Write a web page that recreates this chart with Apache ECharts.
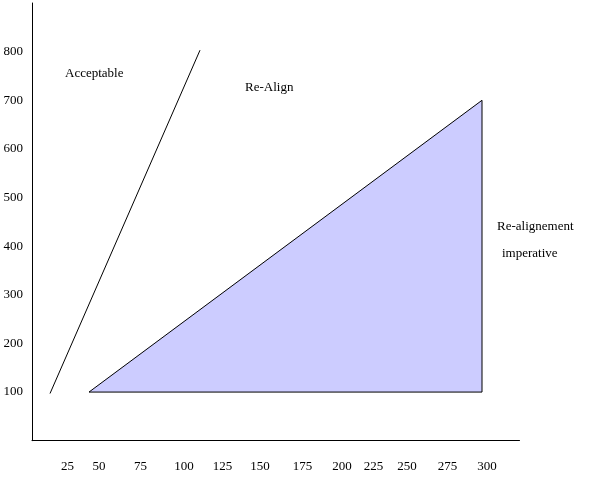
<!DOCTYPE html>
<html>
<head>
<meta charset="utf-8">
<style>
  html, body { margin: 0; padding: 0; background: #ffffff; }
  #chart { width: 600px; height: 478px; }
</style>
<script src="https://cdn.jsdelivr.net/npm/echarts@6/dist/echarts.min.js"></script>
</head>
<body>
<div id="chart"></div>
<script>
// ---- data ----
const xTickLabels = [25, 50, 75, 100, 125, 150, 175, 200, 225, 250, 275, 300];
const yTickLabels = [100, 200, 300, 400, 500, 600, 700, 800];
const acceptableLine = [[12, 97], [112, 803]];
const realignTriangle = [[38, 100], [300, 700], [300, 100]];
const annotations = ['Acceptable', 'Re-Align', 'Re-alignement', 'imperative'];

// ---- style (label nudges in px, as drawn in the original) ----
const xLabelShift = [-2, -8, -4, 2, 3, 3, 8, 10, 4, 0, 3, 5];
const FONT = '"Liberation Serif", "DejaVu Serif", serif';

const rich = {};
xTickLabels.forEach((v, i) => {
  const s = xLabelShift[i];
  rich['s' + i] = {
    fontFamily: FONT, fontSize: 13, color: '#000',
    padding: s >= 0 ? [0, 0, 0, 2 * s] : [0, -2 * s, 0, 0]
  };
});

const chart = echarts.init(document.getElementById('chart'), null, { renderer: 'canvas' });
chart.setOption({
  backgroundColor: '#ffffff',
  animation: false,
  grid: { left: 32, top: 3, right: 80.5, bottom: 37.3, outerBoundsMode: 'none', containLabel: false },
  xAxis: {
    type: 'value', min: 0, max: 325, interval: 25,
    axisLine: { show: true, lineStyle: { color: '#000', width: 1 } },
    axisTick: { show: false },
    splitLine: { show: false },
    axisLabel: {
      margin: 19,
      fontFamily: FONT, fontSize: 13, color: '#000',
      formatter: v => {
        const i = xTickLabels.indexOf(v);
        return i < 0 ? '' : '{s' + i + '|' + v + '}';
      },
      rich: rich
    }
  },
  yAxis: {
    type: 'value', min: 0, max: 900, interval: 100,
    axisLine: { show: true, lineStyle: { color: '#000', width: 1 } },
    axisTick: { show: false },
    splitLine: { show: false },
    axisLabel: {
      margin: 9,
      fontFamily: FONT, fontSize: 13, color: '#000',
      padding: [0, 0, 4, 0],
      formatter: v => yTickLabels.indexOf(v) < 0 ? '' : String(v)
    }
  },
  series: [
    {
      type: 'custom',
      name: 'Re-alignement imperative',
      data: [0],
      silent: true,
      z: 1,
      renderItem: (params, api) => {
        const pts = realignTriangle.map(p => api.coord(p));
        return {
          type: 'polygon',
          shape: { points: pts },
          style: { fill: '#ccccff', stroke: '#000', lineWidth: 1 }
        };
      }
    },
    {
      type: 'line',
      name: 'Acceptable',
      data: acceptableLine,
      showSymbol: false,
      symbol: 'none',
      lineStyle: { color: '#000', width: 1 },
      z: 2
    }
  ],
  graphic: [
    { type: 'text', x: 65, y: 74, style: { text: annotations[0], font: '13px ' + FONT, fill: '#000', verticalAlign: 'middle', align: 'left' } },
    { type: 'text', x: 245, y: 88, style: { text: annotations[1], font: '13px ' + FONT, fill: '#000', verticalAlign: 'middle', align: 'left' } },
    { type: 'text', x: 497, y: 227, style: { text: annotations[2], font: '13px ' + FONT, fill: '#000', verticalAlign: 'middle', align: 'left' } },
    { type: 'text', x: 502, y: 254, style: { text: annotations[3], font: '13px ' + FONT, fill: '#000', verticalAlign: 'middle', align: 'left' } }
  ]
});
</script>
</body>
</html>
